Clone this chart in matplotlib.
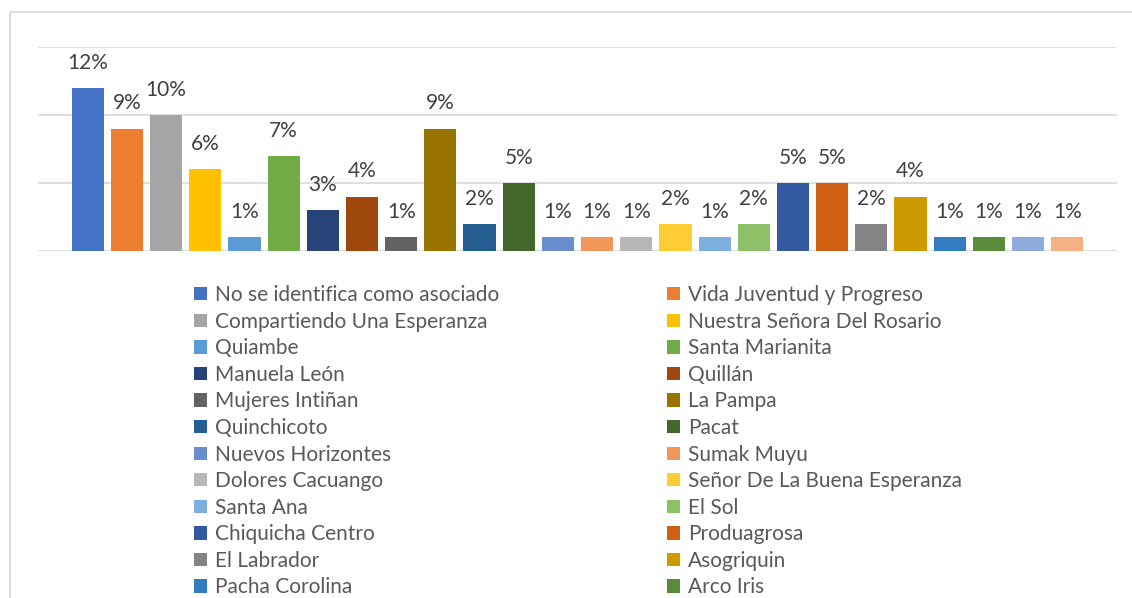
import matplotlib
matplotlib.use('Agg')
import matplotlib.pyplot as plt
from matplotlib.patches import Patch, Rectangle

plt.rcParams['font.family'] = ['Lato', 'DejaVu Sans']

# asociaciones (orden del grafico)
nombres = ['No se identifica como asociado', 'Vida Juventud y Progreso',
           'Compartiendo Una Esperanza', 'Nuestra Señora Del Rosario',
           'Quiambe', 'Santa Marianita', 'Manuela León', 'Quillán',
           'Mujeres Intiñan', 'La Pampa', 'Quinchicoto', 'Pacat',
           'Nuevos Horizontes', 'Sumak Muyu', 'Dolores Cacuango',
           'Señor De La Buena Esperanza', 'Santa Ana', 'El Sol',
           'Chiquicha Centro', 'Produagrosa', 'El Labrador', 'Asogriquin',
           'Pacha Corolina', 'Arco Iris', '', '']

porcentajes = [12, 9, 10, 6, 1, 7, 3, 4, 1, 9, 2, 5, 1, 1, 1, 2, 1, 2,
               5, 5, 2, 4, 1, 1, 1, 1]

colores = ['#4472C4', '#ED7D31', '#A5A5A5', '#FFC000', '#5B9BD5', '#70AD47',
           '#264478', '#9E480E', '#636363', '#997300', '#255E91', '#43682B',
           '#698ED0', '#F1975A', '#B7B7B7', '#FFCD33', '#7CAFDD', '#8CC168',
           '#335AA1', '#D26012', '#848484', '#CC9A00', '#327DC2', '#5A8B3A',
           '#8FAADC', '#F4B183']

fig = plt.figure(figsize=(11.32, 5.98), dpi=100)
ax = fig.add_axes([38/1132, 1 - 251/598, 1079/1132, 204/598])

x = range(len(porcentajes))
barras = ax.bar(x, porcentajes, width=0.82, color=colores, zorder=3)

for xi, v in zip(x, porcentajes):
    ax.annotate(f'{v}%', (xi, v), xytext=(0, 11), textcoords='offset points',
                ha='center', va='bottom', fontsize=15, color='#404040')

ax.set_ylim(0, 15)
ax.set_xlim(-1.27, len(porcentajes) - 1 + 1.27)
ax.set_yticks([0, 5, 10, 15])
ax.yaxis.grid(True, color='#D9D9D9', linewidth=1.2, zorder=0)
ax.set_xticks([])
ax.tick_params(left=False, labelleft=False)
for s in ax.spines.values():
    s.set_visible(False)

# borde exterior del grafico (recortado a la derecha y abajo)
fig.patches.append(Rectangle((10/1132, -0.2), 1.2, 1.2 - 12/598,
                             transform=fig.transFigure, fill=False,
                             edgecolor='#D9D9D9', linewidth=1.2))

handles = [Patch(facecolor=c) for c in colores[:24]]
izq = [(handles[i], nombres[i]) for i in range(0, 24, 2)]
der = [(handles[i], nombres[i]) for i in range(1, 24, 2)]

for grupo, xpos in [(izq, 190/1132), (der, 663/1132)]:
    h, l = zip(*grupo)
    fig.legend(h, l, loc='upper left', bbox_to_anchor=(xpos, 1 - 281/598),
               frameon=False, fontsize=15, labelcolor='#595959',
               handlelength=0.6, handleheight=0.6, handletextpad=0.4,
               labelspacing=0.315, borderaxespad=0, borderpad=0.2)

fig.savefig('out.png', dpi=100)
